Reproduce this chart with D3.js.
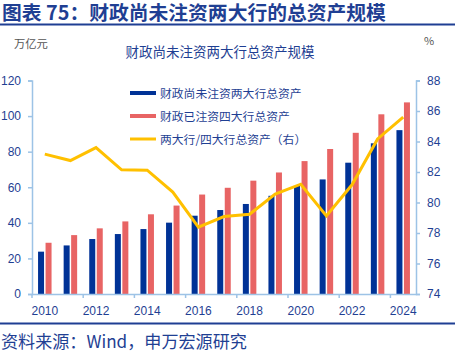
<!DOCTYPE html>
<html><head><meta charset="utf-8">
<script src="https://cdn.jsdelivr.net/npm/d3@7"></script>
<style>
html,body{margin:0;padding:0;background:#fff;}
svg{display:block;font-family:"Noto Sans CJK SC","Noto Sans",sans-serif;}
</style></head>
<body>
<svg id="c" width="455" height="355"></svg>
<script>
const years = ["2010","2011","2012","2013","2014","2015","2016","2017","2018","2019","2020","2021","2022","2023","2024"];
const twoBanks = [23.8,27.3,30.9,33.7,36.5,40.1,44.0,47.2,50.6,55.2,60.7,64.4,73.8,84.7,92.1];
const fourBanks = [28.8,33.1,36.9,40.8,44.8,49.7,55.9,59.7,63.7,68.3,74.7,81.5,90.6,101.0,107.7];
const ratio = [83.17,82.75,83.6,82.14,82.12,80.68,78.38,79.08,79.23,80.55,81.2,79.12,81.16,84.17,85.6];
const leftTicks = [0,20,40,60,80,100,120];
const rightTicks = [74,76,78,80,82,84,86,88];
const xTickLabels = ["2010","2012","2014","2016","2018","2020","2022","2024"];
const seriesNames = ["财政尚未注资两大行总资产","财政已注资四大行总资产","两大行/四大行总资产（右）"];

const svg = d3.select("#c");
const navy = "#1f3f93", blue = "#003296", red = "#e86464", yellow = "#ffc000", axisCol = "#9dc3e6";
const L = 32, R = 416, T = 80.5, B = 294;

// header
svg.append("text").attr("x",2).attr("y",20).attr("fill",navy).attr("font-size",19.8).attr("font-weight","bold")
  .text("图表 75：财政尚未注资两大行的总资产规模");
svg.append("rect").attr("x",0).attr("y",23.5).attr("width",455).attr("height",2).attr("fill",navy);
svg.append("text").attr("x",14).attr("y",48).attr("fill","#555").attr("font-size",11.3).text("万亿元");
svg.append("text").attr("x",424).attr("y",45).attr("fill","#555").attr("font-size",11).text("%");
svg.append("text").attr("x",220).attr("y",57).attr("text-anchor","middle").attr("fill",navy).attr("font-size",13.5)
  .text("财政尚未注资两大行总资产规模");

const x = d3.scaleBand().domain(years).range([L,R]);
const yL = d3.scaleLinear().domain([0,120]).range([B,T]);
const yR = d3.scaleLinear().domain([74,88]).range([B,T]);
const bw = 6, gap = 1.5;

const g = svg.append("g");
g.selectAll(".b").data(years).join("rect")
  .attr("x",d=>x(d)+x.bandwidth()/2-bw-gap/2).attr("width",bw)
  .attr("y",(d,i)=>yL(twoBanks[i])).attr("height",(d,i)=>B-yL(twoBanks[i])).attr("fill",blue);
g.selectAll(".r").data(years).join("rect")
  .attr("x",d=>x(d)+x.bandwidth()/2+gap/2).attr("width",bw)
  .attr("y",(d,i)=>yL(fourBanks[i])).attr("height",(d,i)=>B-yL(fourBanks[i])).attr("fill",red);

const line = d3.line().x((d,i)=>x(years[i])+x.bandwidth()/2).y(d=>yR(d));
g.append("path").datum(ratio).attr("d",line).attr("fill","none").attr("stroke",yellow).attr("stroke-width",3).attr("stroke-linejoin","miter");

// axes
const styleAxis = sel => {
  sel.select(".domain").attr("stroke",axisCol).attr("stroke-width",1.5);
  sel.selectAll(".tick line").attr("stroke",axisCol).attr("stroke-width",1.5);
  sel.selectAll(".tick text").attr("fill",navy).attr("font-size",12).attr("font-family","Liberation Sans, Arial, sans-serif");
};
const axL = svg.append("g").attr("transform",`translate(${L},0)`)
  .call(d3.axisLeft(yL).tickValues(leftTicks).tickSize(4).tickSizeOuter(4).tickPadding(7));
styleAxis(axL);
const axR = svg.append("g").attr("transform",`translate(${R},0)`)
  .call(d3.axisRight(yR).tickValues(rightTicks).tickSize(4).tickSizeOuter(4).tickPadding(7));
styleAxis(axR);
const axB = svg.append("g").attr("transform",`translate(0,${B})`)
  .call(d3.axisBottom(x).tickValues(xTickLabels).tickSize(0).tickPadding(12));
styleAxis(axB);
axB.selectAll(".tick text").attr("dy","0.71em");
// boundary ticks every 2 categories
axB.selectAll(".bt").data(xTickLabels).join("line")
  .attr("x1",d=>x(d)).attr("x2",d=>x(d)).attr("y1",0).attr("y2",4).attr("stroke",axisCol).attr("stroke-width",1.5);

// legend
const lg = svg.append("g");
const ly = [93,116,139];
lg.append("rect").attr("x",130).attr("y",ly[0]-2).attr("width",26).attr("height",4).attr("fill",blue);
lg.append("rect").attr("x",130).attr("y",ly[1]-2).attr("width",26).attr("height",4).attr("fill",red);
lg.append("line").attr("x1",130).attr("x2",156).attr("y1",ly[2]).attr("y2",ly[2]).attr("stroke",yellow).attr("stroke-width",3);
seriesNames.forEach((n,i)=>{
  lg.append("text").attr("x",160).attr("y",ly[i]+4.5).attr("fill",navy).attr("font-size",11.8).text(n);
});

// footer
svg.append("rect").attr("x",0).attr("y",322.5).attr("width",455).attr("height",2).attr("fill",navy);
svg.append("text").attr("x",1).attr("y",348).attr("fill",navy).attr("font-size",17.1).text("资料来源：Wind，申万宏源研究");
</script>
</body></html>
